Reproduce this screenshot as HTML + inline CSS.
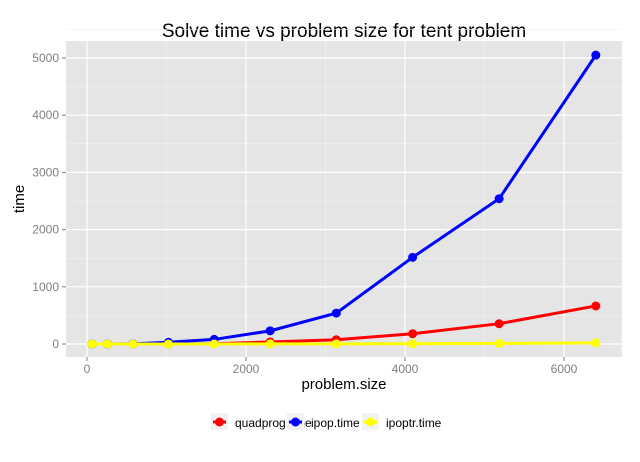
<!DOCTYPE html>
<html><head><meta charset="utf-8"><style>
body{margin:0;background:#fff;font-family:"Liberation Sans",sans-serif}
</style></head><body>
<svg width="640" height="457" xmlns="http://www.w3.org/2000/svg" font-family="Liberation Sans, sans-serif">
<text x="344" y="37" text-anchor="middle" font-size="19">Solve time vs problem size for tent problem</text>
<rect x="66" y="41" width="556" height="316" fill="#e5e5e5"/>
<g id="grid"></g>
<g id="series"></g>
<g id="axes" font-size="12" fill="#7f7f7f"></g>
<text x="344" y="389" text-anchor="middle" font-size="15">problem.size</text>
<text x="24" y="199" text-anchor="middle" font-size="15" transform="rotate(-90 24 199)">time</text>
<g id="legend" font-size="12"></g>
</svg>
<script>
const problemSizes=[64,256,576,1024,1600,2304,3136,4096,5184,6400];
const quadprogTime=[0,0,0,2,5,35,75,180,355,665];
const ipopTime=[0,1,3,30,80,230,540,1515,2540,5050];
const ipoptrTime=[0,0,0,1,1,2,3,5,10,20];
const seriesNames=["quadprog.time","ipop.time","ipoptr.time"];
const xTicks=[0,2000,4000,6000];
const yTicks=[0,1000,2000,3000,4000,5000];
const NS="http://www.w3.org/2000/svg";
const xs=v=>87+v*0.0795;
const ys=v=>344-v*0.0572;
function mk(tag,attrs,parent){const e=document.createElementNS(NS,tag);for(const k in attrs)e.setAttribute(k,attrs[k]);document.getElementById(parent).appendChild(e);return e;}
// minor grid
for(let i=0;i<xTicks.length;i++){const m=xTicks[i]+1000;const l=mk('line',{x1:xs(m),x2:xs(m),y1:41,y2:357,stroke:'#f2f2f2','stroke-width':0.6},'grid');

}
for(let i=0;i<yTicks.length;i++){const m=yTicks[i]+500;const l=mk('line',{x1:66,x2:622,y1:ys(m),y2:ys(m),stroke:'#f2f2f2','stroke-width':0.6},'grid');

}
xTicks.forEach(t=>{const l=mk('line',{x1:xs(t),x2:xs(t),y1:41,y2:357,stroke:'#fff','stroke-width':1.2},'grid');


const k=mk('line',{x1:xs(t),x2:xs(t),y1:357,y2:361,stroke:'#7f7f7f'},'axes');


const tx=mk('text',{x:xs(t),y:373,'text-anchor':'middle'},'axes');tx.textContent=t;

});
yTicks.forEach(t=>{const l=mk('line',{x1:66,x2:622,y1:ys(t),y2:ys(t),stroke:'#fff','stroke-width':1.2},'grid');


const k=mk('line',{x1:62,x2:66,y1:ys(t),y2:ys(t),stroke:'#7f7f7f'},'axes');


const tx=mk('text',{x:59,y:ys(t)+4,'text-anchor':'end'},'axes');tx.textContent=t;

});
const allSeries=[[quadprogTime,'#ff0000','quadprog'],[ipopTime,'#0000ff','ipop'],[ipoptrTime,'#ffff00','ipoptr']];
allSeries.forEach(([vals,col,nm])=>{
const p=mk('polyline',{points:vals.map((v,i)=>xs(problemSizes[i])+','+ys(v)).join(' '),fill:'none',stroke:col,'stroke-width':3},'series');


vals.forEach((v,i)=>{const c=mk('circle',{cx:xs(problemSizes[i]),cy:ys(v),r:4.5,fill:col},'series');

});});
const lx=[211,287,362];const lw=[108,75,90];
seriesNames.forEach((n,i)=>{const col=allSeries[i][1];
const b=mk('rect',{x:lx[i],y:413,width:17,height:17,fill:'#f2f2f2'},'legend');


const l=mk('line',{x1:lx[i]+2,x2:lx[i]+15,y1:422,y2:422,stroke:col,'stroke-width':3},'legend');


const c=mk('circle',{cx:lx[i]+8.5,cy:422,r:4.5,fill:col},'legend');


const t=mk('text',{x:lx[i]+24,y:427},'legend');t.textContent=n;

});
</script>
</body></html>
